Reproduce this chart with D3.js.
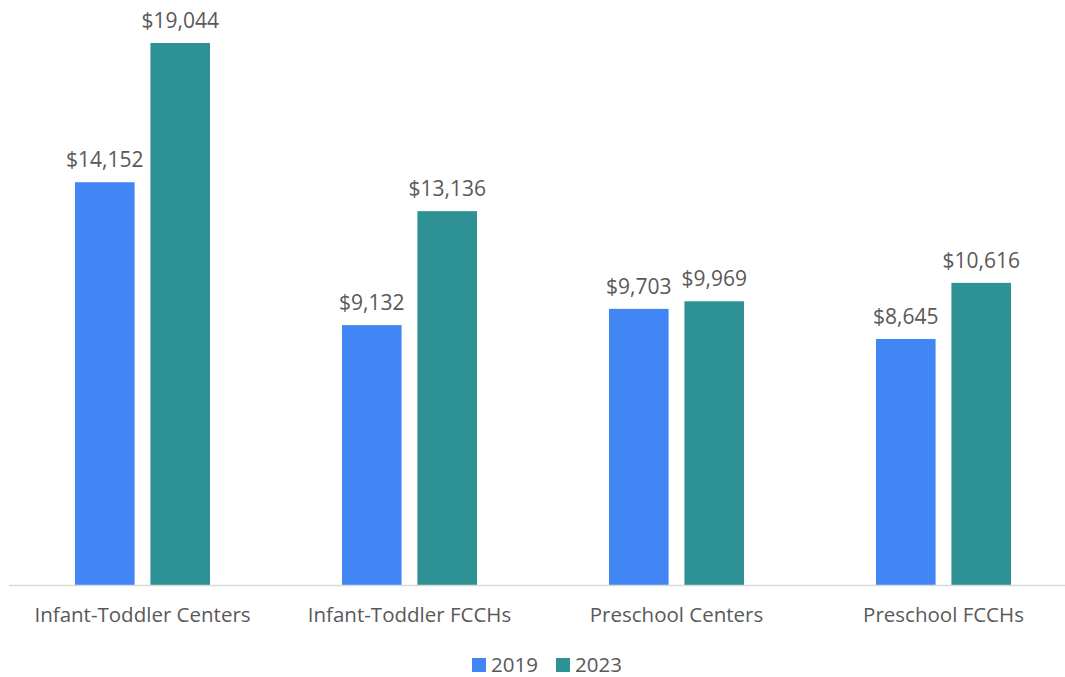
<!DOCTYPE html>
<html>
<head>
<meta charset="utf-8">
<script src="https://cdn.jsdelivr.net/npm/d3@7"></script>
<style>
  body { margin: 0; background: #fff; }
  text { font-family: "Open Sans", sans-serif; fill: #595959; }
</style>
</head>
<body>
<div id="chart"></div>
<script>
// data
var categories = ["Infant-Toddler Centers", "Infant-Toddler FCCHs", "Preschool Centers", "Preschool FCCHs"];
var seriesNames = ["2019", "2023"];
var values2019 = [14152, 9132, 9703, 8645];
var values2023 = [19044, 13136, 9969, 10616];
var colors = ["#4285f4", "#2e9196"];

function renderChart() {
    var width = 1065,
        height = 677;

    var svg = d3.select("#chart")
        .append("svg")
        .attr("width", width)
        .attr("height", height);

    var rows = categories.map(function (c, i) {
        return { cat: c, vals: [values2019[i], values2023[i]] };
    });

    // outer band per category, inner band per year
    var x0 = d3.scaleBand()
        .domain(categories)
        .range([9, 1077]);

    var x1 = d3.scaleBand()
        .domain(seriesNames)
        .range([66, 201])
        .paddingInner(0.21);

    var y = d3.scaleLinear()
        .domain([0, 20000])
        .range([585, 15.8]);

    var groups = svg.append("g")
        .selectAll("g")
        .data(rows)
        .join("g")
        .attr("transform", d => `translate(${x0(d.cat)},0)`);

    groups.selectAll("rect")
        .data(d => d.vals.map((v, i) => ({ key: seriesNames[i], v: v, i: i })))
        .join("rect")
        .attr("x", d => x1(d.key))
        .attr("width", x1.bandwidth())
        .attr("y", d => y(d.v))
        .attr("height", d => y(0) - y(d.v))
        .attr("fill", d => colors[d.i]);

    groups.selectAll("text.val")
        .data(d => d.vals.map((v, i) => ({ key: seriesNames[i], v: v })))
        .join("text")
        .attr("class", "val")
        .attr("x", d => x1(d.key) + x1.bandwidth() / 2)
        .attr("y", d => y(d.v) - 15)
        .attr("text-anchor", "middle")
        .style("font-size", "21px")
        .text(d => "$" + d3.format(",")(d.v));

    // baseline
    svg.append("line")
        .attr("x1", 9)
        .attr("x2", 1065)
        .attr("y1", y(0) + 0.5)
        .attr("y2", y(0) + 0.5)
        .attr("stroke", "#d9d9d9")
        .attr("stroke-width", 1.5);

    // category labels
    var xAxis = svg.append("g")
        .attr("transform", `translate(0,${y(0)})`)
        .call(d3.axisBottom(x0).tickSize(0).tickPadding(22));
    xAxis.select(".domain").remove();
    xAxis.selectAll("text")
        .style("font-size", "20.5px")
        .style("font-family", "'Open Sans', sans-serif")
        .attr("fill", "#595959");

    // legend
    var legendX = [472, 556];
    var legend = svg.append("g")
        .selectAll("g")
        .data(seriesNames)
        .join("g")
        .attr("transform", (d, i) => `translate(${legendX[i]},658)`);
    legend.append("rect")
        .attr("width", 14)
        .attr("height", 14)
        .attr("fill", (d, i) => colors[i]);
    legend.append("text")
        .attr("x", 19)
        .attr("y", 14)
        .style("font-size", "20.5px")
        .text(d => d);
}

document.addEventListener("DOMContentLoaded", function () {
    renderChart();
});
</script>
</body>
</html>
